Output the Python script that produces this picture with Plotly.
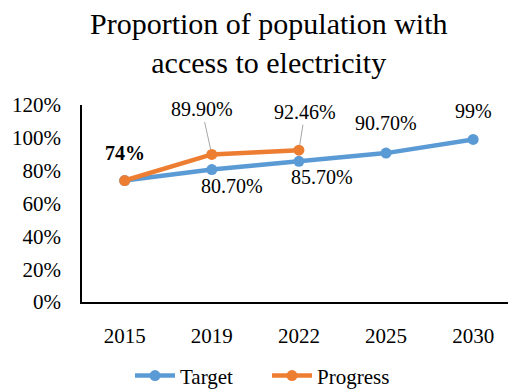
import plotly.graph_objects as go

years = ["2015", "2019", "2022", "2025", "2030"]
target = [74, 80.7, 85.7, 90.7, 99]
progress_years = ["2015", "2019", "2022"]
progress = [74, 89.9, 92.46]

target_labels = ["80.70%", "85.70%", "90.70%", "99%"]
progress_labels = ["74%", "89.90%", "92.46%"]

BLUE = "#5B9BD5"
ORANGE = "#ED7D31"
FONT = "Times New Roman, Liberation Serif, serif"

fig = go.Figure()
fig.add_trace(go.Scatter(
    x=years, y=[v / 100 for v in target], name="Target",
    mode="lines+markers",
    line=dict(color=BLUE, width=4.5),
    marker=dict(color=BLUE, size=11),
))
fig.add_trace(go.Scatter(
    x=progress_years, y=[v / 100 for v in progress], name="Progress",
    mode="lines+markers",
    line=dict(color=ORANGE, width=4.5),
    marker=dict(color=ORANGE, size=11),
))

label_font = dict(size=20, color="black", family=FONT)

# value labels for the target series (2019 onward); category axes take index positions
offsets_t = [(20, -16), (23, -16), (0, 30), (0, 28)]
for yr, val, txt, (dx, dy) in zip(years[1:], target[1:], target_labels, offsets_t):
    fig.add_annotation(x=years.index(yr), y=val / 100, text=txt, showarrow=False,
                       xshift=dx, yshift=dy, font=label_font)

# progress labels: bold start value, leader lines for the rest
fig.add_annotation(x=years.index(progress_years[0]), y=progress[0] / 100,
                   text="<b>" + progress_labels[0] + "</b>",
                   showarrow=False, yshift=28, font=label_font)
for yr, val, txt, (ax, ay) in zip(progress_years[1:], progress[1:], progress_labels[1:],
                                  [(-10, -45), (6, -38)]):
    fig.add_annotation(x=years.index(yr), y=val / 100, text=txt, showarrow=True, arrowhead=0,
                       arrowwidth=1, arrowcolor="#A6A6A6", ax=ax, ay=ay, standoff=5,
                       font=label_font)

# chart title
fig.add_annotation(text="Proportion of population with<br>access to electricity",
                   xref="paper", yref="paper", x=(268 - 82) / 426, y=(302 - 43) / 197,
                   xanchor="center", yanchor="middle", showarrow=False,
                   font=dict(size=30, family=FONT, color="black"))

fig.update_layout(
    width=508, height=390,
    margin=dict(l=82, r=0, t=105, b=88, autoexpand=False),
    paper_bgcolor="white", plot_bgcolor="white",
    font=dict(family=FONT, size=21, color="black"),
    showlegend=True,
    legend=dict(orientation="h", x=(130 - 82) / 426, xanchor="left", y=-0.375, yanchor="middle",
                font=dict(size=21, family=FONT, color="black"), itemwidth=40,
                entrywidth=82, entrywidthmode="pixels"),
)
fig.update_xaxes(type="category", range=[-0.49, 4.40], showline=True, linecolor="black",
                 linewidth=1.5, showgrid=False, ticks="", ticklabelstandoff=14,
                 tickfont=dict(size=21, family=FONT, color="black"))
fig.update_yaxes(range=[0, 1.2], dtick=0.2, tickformat=".0%", showline=True,
                 linecolor="black", linewidth=1.5, showgrid=False, zeroline=False,
                 ticks="", ticklabelstandoff=15,
                 tickfont=dict(size=21, family=FONT, color="black"))

fig.write_html("out.html")
